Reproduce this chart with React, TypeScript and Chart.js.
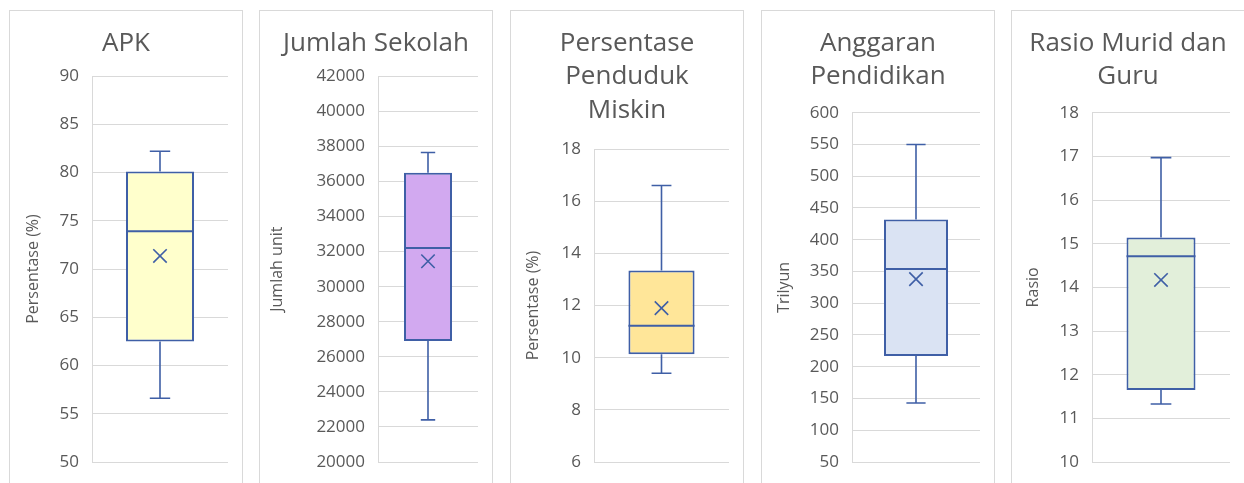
import React, { useEffect, useRef } from "react";
import { Chart, registerables } from "chart.js";

Chart.register(...registerables);

// Box-plot summaries for each indicator
const panelTitles: string[][] = [
  ["APK"],
  ["Jumlah Sekolah"],
  ["Persentase", "Penduduk", "Miskin"],
  ["Anggaran", "Pendidikan"],
  ["Rasio Murid dan", "Guru"],
];
const axisTitles = ["Persentase (%)", "Jumlah unit", "Persentase (%)", "Trilyun", "Rasio"];

const minValues = [56.6, 22400, 9.4, 143, 11.33];
const q1Values = [62.5, 26900, 10.13, 217, 11.65];
const medianValues = [73.9, 32200, 11.22, 354, 14.71];
const q3Values = [80.1, 36500, 13.34, 432, 15.14];
const maxValues = [82.2, 37650, 16.6, 550, 16.97];
const meanValues = [71.35, 31450, 11.9, 338, 14.17];

// Axis ranges (ticks are generated from these)
const axisMin = [50, 20000, 6, 50, 10];
const axisMax = [90, 42000, 18, 600, 18];
const axisStep = [5, 2000, 2, 50, 1];

// Styling
const fillColors = ["#FFFFCC", "#D2A9F0", "#FFE699", "#DAE3F3", "#E2EFDA"];
const STROKE = "#3F5FA6";
const TEXT = "#595959";
const GRID = "#D9D9D9";
const FONT = "'Open Sans', 'Noto Sans', sans-serif";

// Panel layout
const panelLeft = [9, 259, 510, 761, 1011];
const PANEL_TOP = 10;
const PANEL_W = 234;
const PANEL_H = 500;
const CANVAS_W = PANEL_W - 2;
const CANVAS_H = PANEL_H - 2;
const SIDE_PAD = 14;
const plotLeft = [82, 118, 83, 90, 80];
const plotTop = [65, 65.3, 138, 101.7, 101.7];
const PLOT_BOTTOM = 451;
const axisTitleCenter = [23, 17.5, 22, 22, 21];
const barPct = [0.5, 0.48, 0.49, 0.5, 0.5];

const TITLE_SIZE = 26;
const TITLE_LH = 33.3;
const TITLE_PAD_TOP = 16;
const TICK_SIZE = 17;
const AXIS_TITLE_SIZE = 16;
const AXIS_TITLE_LH = 19;

const whiskerPlugin = {
  id: "whiskers",
  afterDatasetsDraw(chart: any, _args: any, opts: any) {
    const i = opts.index as number;
    const meta = chart.getDatasetMeta(1);
    const bar = meta.data[0];
    if (!bar) return;
    const y = chart.scales.y;
    const cx = bar.x;
    const half = bar.width / 2;
    const capHalf = bar.width * 0.15;
    const ctx = chart.ctx;
    ctx.save();
    ctx.strokeStyle = STROKE;
    ctx.lineCap = "butt";
    // whiskers
    ctx.lineWidth = 1.6;
    const yMax = y.getPixelForValue(maxValues[i]);
    const yQ3 = y.getPixelForValue(q3Values[i]);
    const yQ1 = y.getPixelForValue(q1Values[i]);
    const yMin = y.getPixelForValue(minValues[i]);
    ctx.beginPath();
    ctx.moveTo(cx, yQ3);
    ctx.lineTo(cx, yMax);
    ctx.moveTo(cx - capHalf, yMax);
    ctx.lineTo(cx + capHalf, yMax);
    ctx.moveTo(cx, yQ1);
    ctx.lineTo(cx, yMin);
    ctx.moveTo(cx - capHalf, yMin);
    ctx.lineTo(cx + capHalf, yMin);
    ctx.stroke();
    // median
    ctx.lineWidth = 2;
    const yMed = y.getPixelForValue(medianValues[i]);
    ctx.beginPath();
    ctx.moveTo(cx - half, yMed);
    ctx.lineTo(cx + half, yMed);
    ctx.stroke();
    ctx.restore();
  },
};

function BoxPanel({ index }: { index: number }) {
  const ref = useRef<HTMLCanvasElement | null>(null);

  useEffect(() => {
    if (!ref.current) return;
    const i = index;
    const nLines = panelTitles[i].length;
    const titlePadBottom = plotTop[i] - TITLE_PAD_TOP - nLines * TITLE_LH;
    const chart = new Chart(ref.current, {
      type: "bar",
      data: {
        labels: [axisTitles[i]],
        datasets: [
          {
            type: "line",
            label: "Rata-rata",
            data: [meanValues[i]],
            showLine: false,
            pointStyle: "crossRot",
            pointRadius: 9.5,
            pointBorderWidth: 1.6,
            pointBorderColor: STROKE,
            pointBackgroundColor: STROKE,
            order: 0,
          } as any,
          {
            type: "bar",
            label: "Kuartil",
            data: [[q1Values[i], q3Values[i]]],
            backgroundColor: fillColors[i],
            borderColor: STROKE,
            borderWidth: 2,
            borderSkipped: false,
            barPercentage: barPct[i],
            categoryPercentage: 1,
            order: 1,
          } as any,
        ],
      },
      options: {
        responsive: false,
        animation: false,
        devicePixelRatio: 1,
        layout: {
          padding: { left: SIDE_PAD, right: SIDE_PAD, top: 0, bottom: CANVAS_H - PLOT_BOTTOM },
        },
        plugins: {
          legend: { display: false },
          tooltip: { enabled: false },
          title: {
            display: true,
            text: panelTitles[i],
            color: TEXT,
            font: { family: FONT, size: TITLE_SIZE, weight: "normal", lineHeight: TITLE_LH / TITLE_SIZE },
            padding: { top: TITLE_PAD_TOP, bottom: titlePadBottom },
          },
          whiskers: { index: i },
        } as any,
        scales: {
          x: { display: false },
          y: {
            min: axisMin[i],
            max: axisMax[i],
            afterFit: (scale: any) => {
              scale.width = plotLeft[i] - SIDE_PAD;
            },
            ticks: {
              stepSize: axisStep[i],
              color: TEXT,
              padding: 13,
              font: { family: FONT, size: TICK_SIZE },
              callback: (v: any) => String(v),
            },
            grid: { color: GRID, lineWidth: 1, drawTicks: false },
            border: { display: true, color: GRID, width: 1 },
            title: {
              display: true,
              text: axisTitles[i],
              color: TEXT,
              font: { family: FONT, size: AXIS_TITLE_SIZE, lineHeight: AXIS_TITLE_LH / AXIS_TITLE_SIZE },
              padding: { top: axisTitleCenter[i] - SIDE_PAD - AXIS_TITLE_LH / 2, bottom: 0 },
            },
          },
        },
      },
      plugins: [whiskerPlugin],
    });
    return () => chart.destroy();
  }, [index]);

  return (
    <div
      style={{
        position: "absolute",
        left: panelLeft[index],
        top: PANEL_TOP,
        width: PANEL_W,
        height: PANEL_H,
        border: `1px solid ${GRID}`,
        boxSizing: "border-box",
        background: "#fff",
      }}
    >
      <canvas ref={ref} width={CANVAS_W} height={CANVAS_H} style={{ display: "block" }} />
    </div>
  );
}

export default function App() {
  return (
    <div
      style={{
        position: "fixed",
        left: 0,
        top: 0,
        width: 1244,
        height: 483,
        overflow: "hidden",
        background: "#fff",
      }}
    >
      {panelTitles.map((_, i) => (
        <BoxPanel key={i} index={i} />
      ))}
    </div>
  );
}
